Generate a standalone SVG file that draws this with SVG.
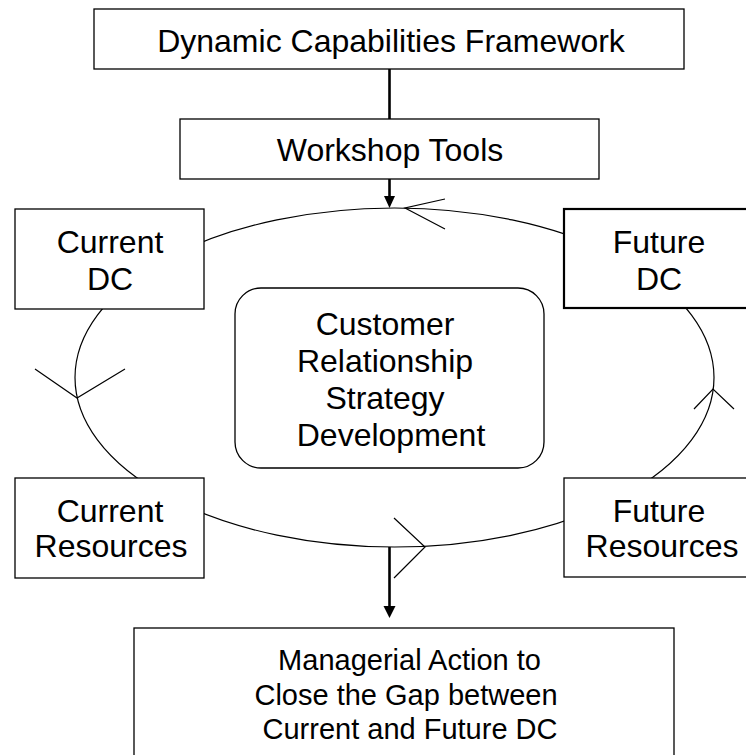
<svg xmlns="http://www.w3.org/2000/svg" width="746" height="755" viewBox="0 0 746 755">
<style>
.box{fill:#fff;stroke:#000;stroke-width:1.3}
.bold{fill:#fff;stroke:#000;stroke-width:2.2}
.t{font-family:"Liberation Sans",Arial,sans-serif;font-size:32px;fill:#000;text-anchor:middle}
.tb{font-family:"Liberation Sans",Arial,sans-serif;font-size:29px;fill:#000;text-anchor:middle}
.cyc{fill:none;stroke:#000;stroke-width:1.2}
.conn{fill:none;stroke:#000;stroke-width:2.6}
.head{fill:#000;stroke:none}
</style>
<rect width="746" height="755" fill="#fff"/>
<g id="connectors">
  <ellipse class="cyc" cx="394.5" cy="377.5" rx="319.5" ry="169.5"/>
  <polyline class="cyc" points="445,199 405,208 445,229"/>
  <polyline class="cyc" points="35,369 77,398 125,369"/>
  <polyline class="cyc" points="694,409 713,389 734,409"/>
  <polyline class="cyc" points="394,518 425,547 394,578"/>
  <line class="conn" x1="389.5" y1="69" x2="389.5" y2="119"/>
  <line class="conn" x1="389.5" y1="179" x2="389.5" y2="198"/>
  <polygon class="head" points="384,196 395,196 389.5,208"/>
  <line class="conn" x1="389.5" y1="547" x2="389.5" y2="608"/>
  <polygon class="head" points="383.5,606 395.5,606 389.5,618"/>
</g>
<g id="dcf">
  <rect class="box" x="94" y="9" width="590" height="60"/>
  <text class="t" x="391" y="52">Dynamic Capabilities Framework</text>
</g>
<g id="workshop">
  <rect class="box" x="180" y="119" width="419" height="60"/>
  <text class="t" x="390" y="161">Workshop Tools</text>
</g>
<g id="current-dc">
  <rect class="box" x="15" y="209" width="189" height="100"/>
  <text class="t" x="110" y="253">Current</text>
  <text class="t" x="110" y="290">DC</text>
</g>
<g id="future-dc">
  <rect class="bold" x="564" y="209" width="200" height="99"/>
  <text class="t" x="659" y="253">Future</text>
  <text class="t" x="659" y="290">DC</text>
</g>
<g id="crsd">
  <rect class="box" x="235" y="288" width="309" height="180" rx="26" ry="26"/>
  <text class="t" x="385" y="335">Customer</text>
  <text class="t" x="385" y="372">Relationship</text>
  <text class="t" x="385" y="409">Strategy</text>
  <text class="t" x="391" y="446">Development</text>
</g>
<g id="current-resources">
  <rect class="box" x="15" y="478" width="189" height="100"/>
  <text class="t" x="110" y="522">Current</text>
  <text class="t" x="111" y="557">Resources</text>
</g>
<g id="future-resources">
  <rect class="box" x="564" y="478" width="200" height="99"/>
  <text class="t" x="659" y="522">Future</text>
  <text class="t" x="662" y="557">Resources</text>
</g>
<g id="managerial-action">
  <rect class="box" x="134" y="628" width="540" height="150"/>
  <text class="tb" x="409.5" y="670">Managerial Action to</text>
  <text class="tb" x="406" y="705">Close the Gap between</text>
  <text class="tb" x="410" y="739">Current and Future DC</text>
</g>
</svg>
